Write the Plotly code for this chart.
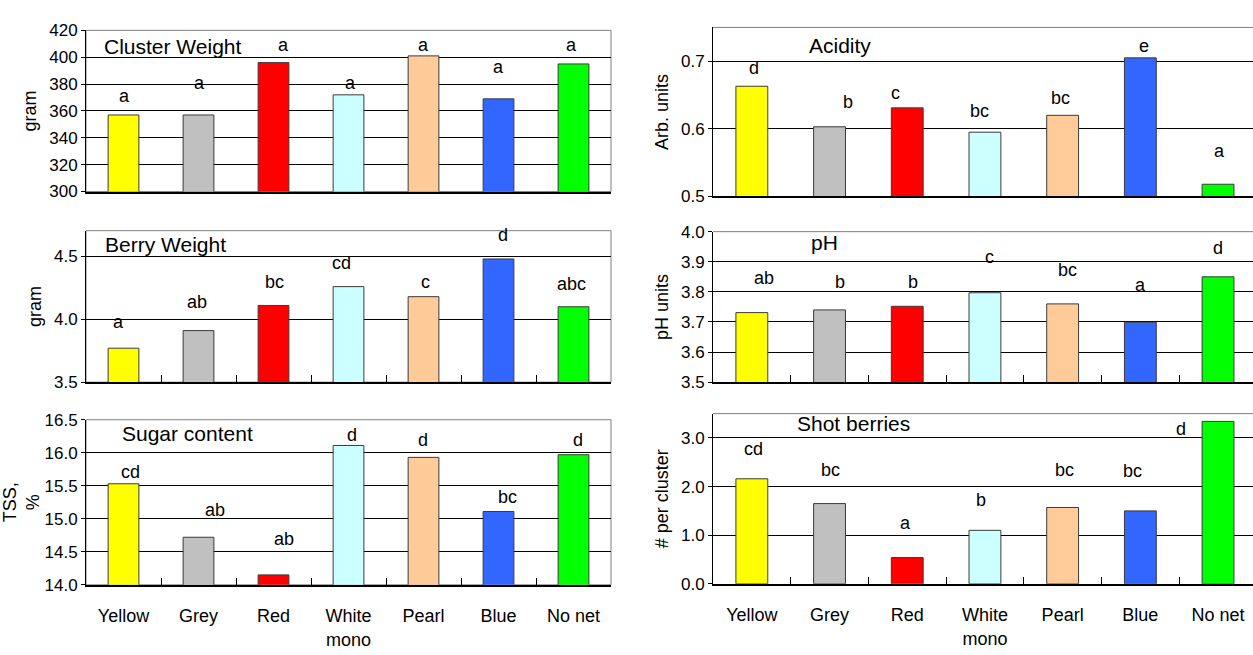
import plotly.graph_objects as go

# ---------------- data ----------------
categories = ["Yellow", "Grey", "Red", "White<br>mono", "Pearl", "Blue", "No net"]
bar_colors = ["#FFFF00", "#C0C0C0", "#FF0000", "#CCFFFF", "#FFCC99", "#3366FF", "#00FF00"]

cluster_weight = [357, 357, 396, 372, 401, 369, 395]
cluster_letters = ["a", "a", "a", "a", "a", "a", "a"]
cluster_letter_y = [371, 381, 409, 381, 409, 393, 409]
cluster_letter_dx = [1, 1, 10, 2, 0, 0, -2]

berry_weight = [3.77, 3.91, 4.11, 4.26, 4.18, 4.48, 4.10]
berry_letters = ["a", "ab", "bc", "cd", "c", "d", "abc"]
berry_letter_y = [3.975, 4.14, 4.30, 4.45, 4.30, 4.67, 4.28]
berry_letter_dx = [-5, -2, 1, -7, 2, 4, -2]

sugar_content = [15.53, 14.72, 14.15, 16.11, 15.93, 15.11, 15.97]
sugar_letters = ["cd", "ab", "ab", "d", "d", "bc", "d"]
sugar_letter_y = [15.71, 15.13, 14.69, 16.27, 16.19, 15.33, 16.19]
sugar_letter_dx = [7, 16, 10, 3, -1, 9, 4]

acidity = [0.663, 0.603, 0.631, 0.595, 0.620, 0.705, 0.518]
acidity_letters = ["d", "b", "c", "bc", "bc", "e", "a"]
acidity_letter_y = [0.690, 0.640, 0.653, 0.627, 0.646, 0.722, 0.567]
acidity_letter_dx = [2, 18, -12, -5, -2, 4, 1]

ph = [3.731, 3.740, 3.752, 3.797, 3.760, 3.699, 3.850]
ph_letters = ["ab", "b", "b", "c", "bc", "a", "d"]
ph_letter_y = [3.847, 3.833, 3.833, 3.917, 3.872, 3.823, 3.947]
ph_letter_dx = [12, 10, 6, 5, 5, 0, 0]

shot_berries = [2.16, 1.65, 0.54, 1.10, 1.57, 1.50, 3.34]
shot_letters = ["cd", "bc", "a", "b", "bc", "bc", "d"]
shot_letter_y = [2.78, 2.35, 1.26, 1.72, 2.35, 2.33, 3.18]
shot_letter_dx = [2, 1, -2, -4, 2, -8, -37]

# ---------------- layout helpers ----------------
W, H = 1253, 655
FONT = "Liberation Sans, Arial, sans-serif"


def py(px):
    return 1 - px / H


LEFT_X = [86 / W, 611 / W]
RIGHT_X = [713 / W, 1.0]

panels = [
    dict(title="Cluster Weight", vals=cluster_weight, letters=cluster_letters,
         ly=cluster_letter_y, ldx=cluster_letter_dx, ytitle="gram",
         yrange=[300, 420], tickvals=[300, 320, 340, 360, 380, 400, 420], fmt="d",
         xdom=LEFT_X, ydom=[py(188), py(22)], tpos=(102, 39), xticks=False,
         labels=False, side="left"),
    dict(title="Acidity", vals=acidity, letters=acidity_letters,
         ly=acidity_letter_y, ldx=acidity_letter_dx, ytitle="Arb. units",
         yrange=[0.5, 0.75], tickvals=[0.5, 0.6, 0.7], fmt=".1f",
         xdom=RIGHT_X, ydom=[py(193), py(19)], tpos=(807, 38), xticks=False,
         labels=False, side="right"),
    dict(title="Berry Weight", vals=berry_weight, letters=berry_letters,
         ly=berry_letter_y, ldx=berry_letter_dx, ytitle="gram",
         yrange=[3.5, 4.705], tickvals=[3.5, 4.0, 4.5], fmt=".1f",
         xdom=LEFT_X, ydom=[py(384.3), py(228.3)], tpos=(103, 243), xticks=True,
         labels=False, side="left"),
    dict(title="pH", vals=ph, letters=ph_letters,
         ly=ph_letter_y, ldx=ph_letter_dx, ytitle="pH units",
         yrange=[3.5, 4.0], tickvals=[3.5, 3.6, 3.7, 3.8, 3.9, 4.0], fmt=".1f",
         xdom=RIGHT_X, ydom=[py(384.3), py(229.3)], tpos=(809, 240), xticks=True,
         labels=False, side="right"),
    dict(title="Sugar content", vals=sugar_content, letters=sugar_letters,
         ly=sugar_letter_y, ldx=sugar_letter_dx, ytitle="TSS,<br>%",
         yrange=[14.0, 16.5], tickvals=[14.0, 14.5, 15.0, 15.5, 16.0, 16.5], fmt=".1f",
         xdom=LEFT_X, ydom=[py(593), py(423)], tpos=(120, 437), xticks=True,
         labels=True, side="left"),
    dict(title="Shot berries", vals=shot_berries, letters=shot_letters,
         ly=shot_letter_y, ldx=shot_letter_dx, ytitle="# per cluster",
         yrange=[0, 3.5], tickvals=[0, 1, 2, 3], fmt=".1f",
         xdom=RIGHT_X, ydom=[py(592), py(416.7)], tpos=(795, 427), xticks=True,
         labels=True, side="right"),
]

fig = go.Figure()
annotations = []
shapes = []
layout_axes = {}

for i, p in enumerate(panels, start=1):
    sfx = "" if i == 1 else str(i)
    xname, yname = "x" + sfx, "y" + sfx
    fig.add_trace(go.Bar(
        x=categories, y=p["vals"], xaxis=xname, yaxis=yname,
        marker=dict(color=bar_colors, line=dict(color="#3a3a3a", width=1)),
        showlegend=False, hoverinfo="x+y",
    ))
    xr = [-0.5, 6.5] if p["side"] == "left" else [-0.5, 6.45]
    layout_axes["xaxis" + sfx] = dict(
        domain=p["xdom"], anchor=yname, type="category", range=xr,
        showline=True, linecolor="#000000", linewidth=1.5,
        ticks="inside" if p["xticks"] else "", tickson="boundaries",
        ticklen=7, tickcolor="#000000", tickwidth=1,
        showticklabels=p["labels"], ticklabelstandoff=14,
        tickfont=dict(family=FONT, size=18, color="#000000"),
        showgrid=False, zeroline=False, fixedrange=True,
    )
    layout_axes["yaxis" + sfx] = dict(
        domain=p["ydom"], anchor=xname, range=p["yrange"],
        tickvals=p["tickvals"], tickformat=p["fmt"],
        showline=True, linecolor="#000000", linewidth=1,
        ticks="outside", ticklen=4, tickcolor="#000000",
        tickfont=dict(family=FONT, size=17, color="#000000"),
        showgrid=True, gridcolor="#000000", gridwidth=1, zeroline=False,
        title=dict(text=p["ytitle"], font=dict(family=FONT, size=18, color="#000000"),
                   standoff=7),
        fixedrange=True,
    )
    # frame
    if p["side"] == "left":
        shapes.append(dict(type="rect", xref=xname + " domain", yref=yname + " domain",
                           x0=0, x1=1, y0=0, y1=1, line=dict(color="#808080", width=1),
                           layer="below"))
    else:
        shapes.append(dict(type="line", xref=xname + " domain", yref=yname + " domain",
                           x0=0, x1=1, y0=1, y1=1, line=dict(color="#808080", width=1),
                           layer="below"))
    # significance letters
    for cat, letter, ly, dx in zip(categories, p["letters"], p["ly"], p["ldx"]):
        annotations.append(dict(
            x=cat, y=ly, xref=xname, yref=yname, text=letter, showarrow=False,
            xshift=dx, xanchor="center", yanchor="middle",
            font=dict(family=FONT, size=18, color="#000000"),
        ))
    # panel title
    annotations.append(dict(
        x=p["tpos"][0] / W, y=py(p["tpos"][1]), xref="paper", yref="paper",
        text=p["title"], showarrow=False, xanchor="left", yanchor="middle",
        font=dict(family=FONT, size=21, color="#000000"),
    ))

fig.update_layout(
    width=W, height=H,
    margin=dict(l=0, r=0, t=0, b=0),
    paper_bgcolor="#FFFFFF", plot_bgcolor="#FFFFFF",
    bargap=0.59,
    annotations=annotations, shapes=shapes,
    font=dict(family=FONT, color="#000000"),
    **layout_axes,
)

fig.write_html(
    "out.html",
    config={"displayModeBar": False},
    post_script="document.body.style.margin='0px';document.body.style.overflow='hidden';",
)
